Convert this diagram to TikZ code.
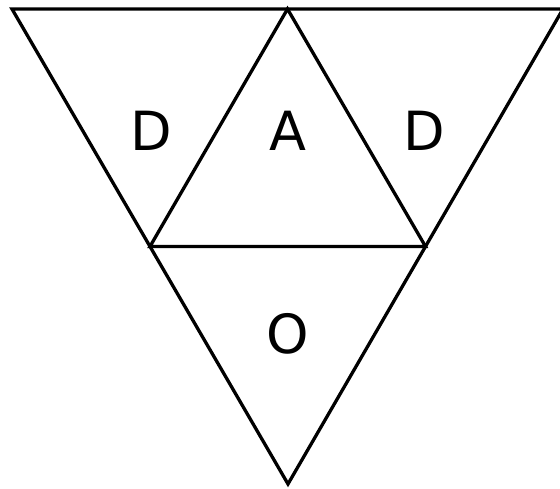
\documentclass[tikz,border=0pt]{standalone}
\usepackage{fontspec}
\setmainfont{DejaVu Sans}
\usetikzlibrary{calc}

\begin{document}
\begin{tikzpicture}[
		x=1pt, y=1pt,
		edge/.style={line width=3.3pt, line join=miter, black},
		face/.style={font=\fontsize{54}{54}\selectfont, inner sep=0pt}
	]
		\useasboundingbox (0,0) rectangle (560,489);

		% corners of the big triangle and the mid points of its sides
		\coordinate (tl) at (12,480);
		\coordinate (tr) at (563,480);
		\coordinate (bot) at (288,5);
		\coordinate (tm) at ($(tl)!0.5!(tr)$);
		\coordinate (ml) at ($(tl)!0.5!(bot)$);
		\coordinate (mr) at ($(tr)!0.5!(bot)$);

		\draw[edge] (tl) -- (tr) -- (bot) -- cycle;
		\draw[edge] (ml) -- (tm) -- (mr) -- cycle;

		\node[face] (left) at (151,358) {D};
		\node[face] (mid) at (288,358) {A};
		\node[face] (right) at (424,358) {D};
		\node[face] (low) at (288,155) {O};
	\end{tikzpicture}
\end{document}
